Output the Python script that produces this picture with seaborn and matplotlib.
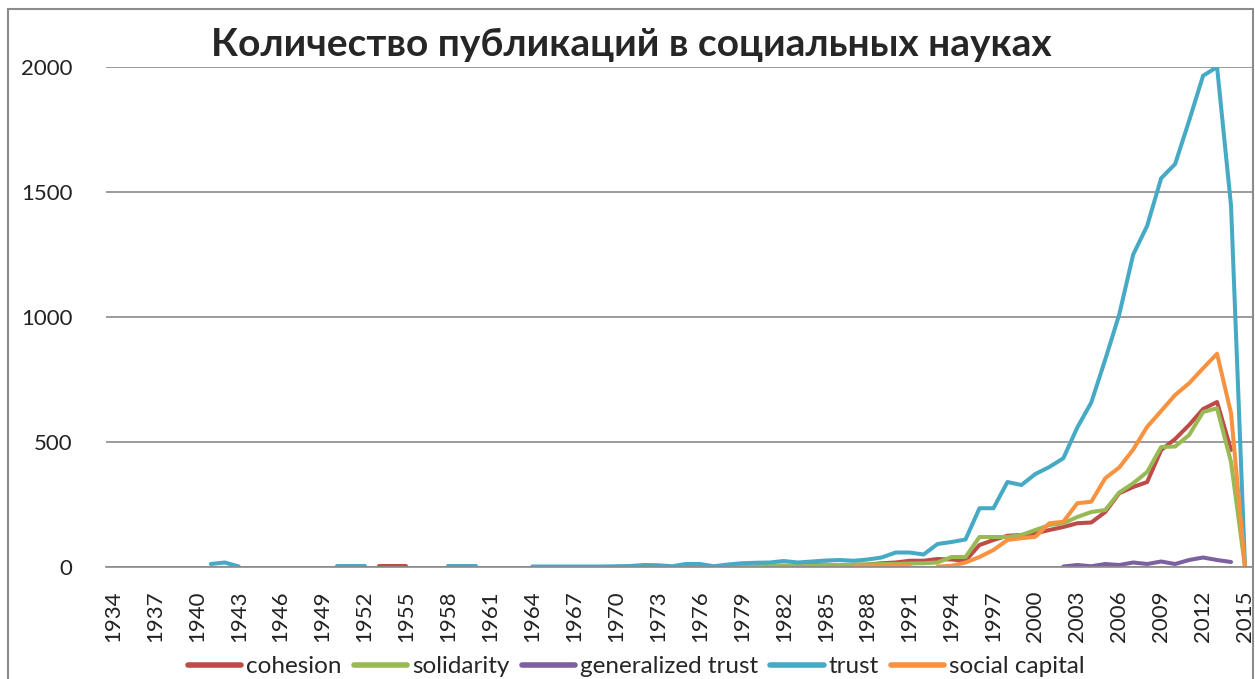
import numpy as np
import pandas as pd
import matplotlib
matplotlib.use('Agg')
import matplotlib.pyplot as plt
from matplotlib.patches import Rectangle
import seaborn as sns

# ------------------------------------
# --- Dados
# ------------------------------------
years = list(range(1934, 2016))
na = None

cohesion = ([na] * 19 + [3, 3, 3] + [na] * 22 +
            [2, 3, 3, 4, 5, 4, 8, 10, 6, 8, 10, 15, 18, 25, 25, 32, 30, 25,
             88, 108, 125, 128, 135, 148, 160, 175, 178, 220, 295, 320, 340,
             468, 512, 568, 632, 660, 468, na])

solidarity = ([na] * 44 +
              [1, 2, 3, 4, 5, 5, 6, 8, 8, 10, 10, 12, 12, 14, 15, 18, 40, 40,
               120, 120, 120, 128, 148, 168, 175, 200, 220, 228, 298, 335, 380,
               480, 482, 528, 620, 635, 420, 0])

generalized_trust = ([na] * 68 +
                     [2, 8, 3, 12, 8, 18, 12, 22, 12, 28, 38, 28, 20, na])

trust = ([na] * 7 + [12, 18, 2] + [na] * 6 + [3, 3, 3] + [na] * 5 + [3, 3, 3] + [na] * 3 +
         [2, 2, 2, 2, 2, 2, 3, 4, 8, 7, 3, 12, 12, 3, 10, 15, 17, 18, 24, 18,
          22, 26, 28, 25, 30, 38, 58, 58, 50, 92, 100, 110, 235, 235, 340, 328,
          372, 400, 435, 558, 658, 830, 1010, 1250, 1365, 1555, 1612, 1785,
          1965, 2000, 1445, 0])

social_capital = ([na] * 53 + [2, 3, 3, 4, 4, na] +
                  [2, 5, 18, 40, 68, 108, 115, 121, 175, 181, 255, 261, 355, 398,
                   470, 561, 624, 688, 735, 795, 853, 615, 0])

series_names = ['cohesion', 'solidarity', 'generalized trust', 'trust', 'social capital']
series_vals = [cohesion, solidarity, generalized_trust, trust, social_capital]
cores = ['#BE4B48', '#98B954', '#7D60A0', '#46AAC5', '#F69240']

# tabela longa, com um "segmento" para cada trecho contínuo (lacunas = sem linha)
linhas = []
for nome, vals in zip(series_names, series_vals):
    seg = 0
    anterior = False
    for ano, v in zip(years, vals):
        if v is None:
            anterior = False
            continue
        if not anterior:
            seg += 1
        linhas.append({'ano': ano, 'valor': v, 'serie': nome, 'seg': f'{nome}_{seg}'})
        anterior = True
df = pd.DataFrame(linhas)

# ------------------------------------
# --- Gráfico
# ------------------------------------
sns.set_style('white')
plt.rcParams['font.family'] = ['Lato', 'DejaVu Sans']

fig = plt.figure(figsize=(12.55, 6.79), dpi=100)
ax = fig.add_axes([106 / 1255, 1 - 567 / 679, (1252 - 106) / 1255, 500 / 679])

sns.lineplot(
    data=df, x='ano', y='valor', hue='serie', units='seg', estimator=None,
    hue_order=series_names, palette=cores, linewidth=2.9, ax=ax, legend=True
)

ax.set_xlim(1933.5, 2015.5)
ax.set_ylim(0, 2000)
ax.set_yticks([0, 500, 1000, 1500, 2000])
ax.set_xticks(years[::3])
ax.set_xticklabels([str(a) for a in years[::3]], rotation=90)
ax.tick_params(axis='y', length=0, pad=24, labelsize=16, colors='#222222')
ax.tick_params(axis='x', length=0, pad=17, labelsize=16, colors='#222222')
ax.grid(axis='y', color='#8a8a8a', linewidth=1.2)
ax.set_axisbelow(True)
ax.set_xlabel('')
ax.set_ylabel('')
for lado in ['left', 'right', 'top']:
    ax.spines[lado].set_visible(False)
ax.spines['bottom'].set_color('#8a8a8a')
ax.spines['bottom'].set_linewidth(1.2)

ax.set_title('Количество публикаций в социальных науках', fontsize=28,
             fontweight='bold', pad=8, x=0.458)

# legenda embaixo
handles, labels = ax.get_legend_handles_labels()
ax.get_legend().remove()
leg = fig.legend(handles, labels, loc='center', bbox_to_anchor=(0.507, 0.018),
                 ncol=5, frameon=False, fontsize=17.5, handlelength=2.2,
                 handletextpad=0.2, columnspacing=0.5)
for linha in leg.get_lines():
    linha.set_linewidth(4)

# moldura externa do gráfico (estilo Excel)
fig.add_artist(Rectangle((8 / 1255, -0.05), (1253 - 8) / 1255, 1 - 9 / 679 + 0.05,
                         transform=fig.transFigure, fill=False,
                         edgecolor='#8c8c8c', linewidth=1.5))

fig.savefig('out.png', dpi=100)
